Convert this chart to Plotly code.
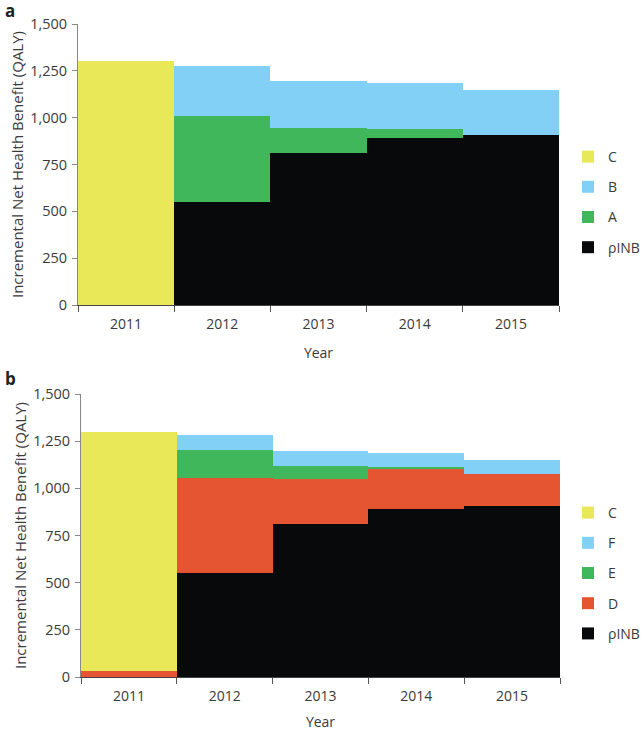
import plotly.graph_objects as go

years = ["2011", "2012", "2013", "2014", "2015"]

# Panel a
a_pinb = [0, 548, 810, 891, 906]
a_A = [0, 463, 135, 47, 0]
a_B = [0, 265, 249, 247, 242]
a_C = [1300, 0, 0, 0, 0]

# Panel b
b_pinb = [0, 550, 810, 891, 906]
b_D = [30, 506, 237, 209, 171]
b_E = [0, 145, 74, 12, 0]
b_F = [0, 80, 76, 75, 73]
b_C = [1270, 0, 0, 0, 0]

YELLOW = "#E8E858"
BLUE = "#82D0F5"
GREEN = "#3FB75A"
BLACK = "#08090B"
RED = "#E65532"

W, H = 642, 731
FONT = "Open Sans"
TXT = "#3a3a3a"

fig = go.Figure()

def add(name, vals, color, xa, ya, legend, rank):
    fig.add_trace(go.Bar(
        x=years, y=vals, name=name, marker=dict(color=color, line=dict(width=0)),
        xaxis=xa, yaxis=ya, legend=legend, legendgroup=legend + name, legendrank=rank,
    ))

add("ρINB", a_pinb, BLACK, "x", "y", "legend", 4)
add("A", a_A, GREEN, "x", "y", "legend", 3)
add("B", a_B, BLUE, "x", "y", "legend", 2)
add("C", a_C, YELLOW, "x", "y", "legend", 1)

add("ρINB", b_pinb, BLACK, "x2", "y2", "legend2", 5)
add("D", b_D, RED, "x2", "y2", "legend2", 4)
add("E", b_E, GREEN, "x2", "y2", "legend2", 3)
add("F", b_F, BLUE, "x2", "y2", "legend2", 2)
add("C", b_C, YELLOW, "x2", "y2", "legend2", 1)

def xax(domain, anchor):
    return dict(domain=domain, anchor=anchor, type="category", tickson="boundaries",
                ticks="outside", ticklen=6, tickcolor="#555", showline=True,
                linecolor="#444", linewidth=1, showgrid=False, zeroline=False,
                automargin=False, ticklabelstandoff=6,
                tickfont=dict(size=14, color=TXT, family=FONT),
                title=dict(text="Year", font=dict(size=14, color=TXT, family=FONT), standoff=16),
                fixedrange=True)

def yax(domain, anchor):
    return dict(domain=domain, anchor=anchor, range=[0, 1500], tickvals=[0, 250, 500, 750, 1000, 1250, 1500],
                tickformat=",", ticks="outside", ticklen=5, tickcolor="#888", showline=True,
                linecolor="#888", linewidth=1, showgrid=False, zeroline=False,
                automargin=False, ticklabelstandoff=2,
                tickfont=dict(size=14.5, color=TXT, family=FONT),
                title=dict(text="Incremental Net Health Benefit (QALY)",
                           font=dict(size=15, color=TXT, family=FONT), standoff=2),
                fixedrange=True)

leg = dict(xanchor="left", yanchor="middle", traceorder="grouped", tracegroupgap=9,
           font=dict(size=14, color=TXT, family=FONT), bgcolor="rgba(0,0,0,0)", itemwidth=30)

fig.update_layout(
    width=W, height=H, margin=dict(l=0, r=0, t=0, b=0, autoexpand=False),
    paper_bgcolor="white", plot_bgcolor="white",
    barmode="stack", bargap=0,
    font=dict(family=FONT, color=TXT),
    xaxis=xax([78 / W, 559 / W], "y"),
    yaxis=yax([1 - 305 / H, 1 - 24 / H], "x"),
    xaxis2=xax([81 / W, 560 / W], "y2"),
    yaxis2=yax([1 - 677 / H, 1 - 394 / H], "x2"),
    legend=dict(leg, x=568 / W, y=1 - 202 / H),
    legend2=dict(leg, x=568 / W, y=1 - 573 / H),
    annotations=[
        dict(text="<b>a</b>", x=3 / W, y=1 + 3 / H, xref="paper", yref="paper",
             xanchor="left", yanchor="top", showarrow=False,
             font=dict(size=17, color="#222", family=FONT)),
        dict(text="<b>b</b>", x=3 / W, y=1 - 365 / H, xref="paper", yref="paper",
             xanchor="left", yanchor="top", showarrow=False,
             font=dict(size=17, color="#222", family=FONT)),
    ],
)

fig.write_html("out.html", config={"displayModeBar": False},
               post_script="document.body.style.margin='0px';")
